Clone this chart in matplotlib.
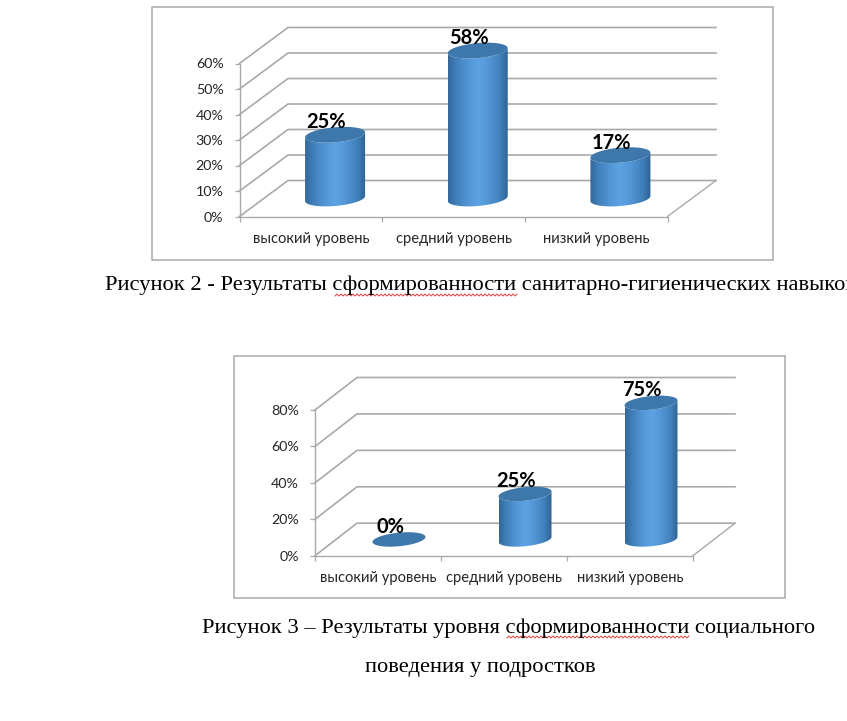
import numpy as np
import matplotlib
matplotlib.use("Agg")
import matplotlib.pyplot as plt
from matplotlib.path import Path
from matplotlib.patches import PathPatch
from matplotlib.colors import LinearSegmentedColormap
from matplotlib.transforms import IdentityTransform

categories = ["высокий уровень", "средний уровень", "низкий уровень"]
values_fig2 = [25, 58, 17]
values_fig3 = [0, 25, 75]
ticks_fig2 = [0, 10, 20, 30, 40, 50, 60]
ticks_fig3 = [0, 20, 40, 60, 80]
caption_fig2 = "Рисунок 2 - Результаты сформированности санитарно-гигиенических навыков"
caption_fig3a = "Рисунок 3 – Результаты уровня сформированности социального"
caption_fig3b = "поведения у подростков"

W, H = 847, 721
DPI = 100
GRAY = "#a9a9a9"
SANS = ["Lato", "Open Sans", "DejaVu Sans"]
body_cmap = LinearSegmentedColormap.from_list(
    "body", [(0, "#33689a"), (0.14, "#4080bb"), (0.32, "#5295d5"), (0.5, "#5da3e4"),
             (0.68, "#5295d5"), (0.86, "#4080bb"), (1, "#2f6192")])
top_color = "#3e77aa"

fig = plt.figure(figsize=(W / DPI, H / DPI), dpi=DPI, facecolor="white")


def draw_cylinder(ax, xc, yc, value, rx, ry, slope, img_z):
    """Cylinder on the mid-depth plane; xc, yc, rx in data units, ry and slope in value units."""
    t = np.linspace(0, 2 * np.pi, 73)
    ex = rx * np.cos(t)
    ey = ry * np.sin(t) + slope * np.cos(t)
    ytop = yc + value
    low = np.linspace(np.pi, 2 * np.pi, 37)
    bx = xc + rx * np.cos(low)
    by = yc + ry * np.sin(low) + slope * np.cos(low)
    tx = xc + rx * np.cos(low[::-1])
    ty = ytop + ry * np.sin(low)[::-1] + slope * np.cos(low[::-1])
    verts = np.column_stack([np.r_[bx, tx], np.r_[by, ty]])
    extent = [xc - rx, xc + rx, yc - 2 * ry - abs(slope), ytop + 2 * ry + abs(slope)]
    grad = np.linspace(0, 1, 200)[None, :]
    if value > 0:
        poly = PathPatch(Path(np.vstack([verts, verts[0]]), closed=True),
                         transform=ax.transData, fc="none", ec="none")
        ax.add_patch(poly)
        im = ax.imshow(grad, cmap=body_cmap, extent=extent, aspect="auto",
                       origin="lower", zorder=img_z, interpolation="bilinear")
        im.set_clip_path(poly)
    ax.fill(xc + ex, ytop + ey, color=top_color, lw=0, zorder=img_z + 0.1)


def draw_chart(panel_px, front_px, depth_px, ymax, ticks, values, radius_px, label_fs):
    left, top, right, bottom = panel_px
    x0, x1, y0, ytop = front_px
    dx_px, dy_px = depth_px
    ax = fig.add_axes([left / W, 1 - bottom / H, (right - left) / W, (bottom - top) / H])
    ppc = (x1 - x0) / len(categories)
    ppu = (y0 - ytop) / ymax
    xlim = ((left - x0) / ppc, (right - x0) / ppc)
    ylim = ((y0 - bottom) / ppu, (y0 - top) / ppu)
    ddx, ddy = dx_px / ppc, dy_px / ppu
    n = len(categories)

    for tv in ticks:
        ax.plot([0, ddx, n + ddx], [tv, tv + ddy, tv + ddy], color=GRAY, lw=1.2, zorder=1,
                solid_joinstyle="miter")
    ax.plot([n, n + ddx], [0, ddy], color=GRAY, lw=1.0, zorder=1)

    rx = radius_px[0] / ppc
    ry = radius_px[1] / ppu
    slope = radius_px[2] / ppu
    for i, v in enumerate(values):
        xc = i + 0.5 + ddx / 2
        yc = ddy / 2
        draw_cylinder(ax, xc, yc, v, rx, ry, slope, 3)
        ax.annotate(f"{v}%", (xc, yc + v), xytext=(-9 * 72 / DPI, 12.5 * 72 / DPI),
                    textcoords="offset points", ha="center", va="center",
                    fontsize=label_fs, fontweight="bold", family=SANS,
                    color="black", zorder=6)

    ax.set_xlim(xlim)
    ax.set_ylim(ylim)
    for s in ("top", "right"):
        ax.spines[s].set_visible(False)
    ax.spines["left"].set_position(("data", 0))
    ax.spines["bottom"].set_position(("data", 0))
    ax.spines["left"].set_bounds(0, ymax)
    ax.spines["bottom"].set_bounds(0, n)
    for s in ("left", "bottom"):
        ax.spines[s].set_color(GRAY)
        ax.spines[s].set_linewidth(1.0)
    ax.set_yticks(ticks, [f"{t}%" for t in ticks], family=SANS)
    ax.set_xticks(np.arange(n + 1), [""] * (n + 1))
    ax.set_xticks(np.arange(n) + 0.5, categories, minor=True, family=SANS)
    ax.tick_params(axis="y", length=3.5, width=0.9, color=GRAY, labelsize=10.3,
                   labelcolor="#262626", pad=8)
    ax.tick_params(axis="x", which="major", length=3.5, width=0.9, color=GRAY)
    ax.tick_params(axis="x", which="minor", length=0, labelsize=10.6,
                   labelcolor="#262626", pad=11.3)
    ax.patch.set_facecolor("white")
    ax.patch.set_edgecolor(GRAY)
    ax.patch.set_linewidth(1.1)
    return ax


draw_chart((151.5, 6.5, 772.5, 260), (239.5, 667.5, 216.5, 63.5), (48.5, 36), 60,
           ticks_fig2, values_fig2, (30, 7.5, 2.5), 14.5)
draw_chart((233.5, 356, 784.5, 598), (315, 693, 555.7, 410), (42, 32.5), 80,
           ticks_fig3, values_fig3, (26.5, 6.8, 2.5), 14.5)


def caption(text, x, y, ha="left"):
    fig.text(x / W, 1 - y / H, text, ha=ha, va="center", family="Liberation Serif",
             fontsize=16.2, color="black")


caption(caption_fig2, 105, 285.5)
caption(caption_fig3a, 202, 628.5)
caption(caption_fig3b, 365, 667.5)


def wavy(x_start, x_end, y):
    xs = np.arange(x_start, x_end + 1, 2.0)
    ys = y + 1.0 * (-1.0) ** np.arange(len(xs))
    fig.add_artist(plt.Line2D(xs, H - ys, transform=IdentityTransform(),
                              color="#e0403a", lw=0.7))


wavy(335, 517, 295)
wavy(507, 690, 637)

fig.savefig("out.png", dpi=DPI)
